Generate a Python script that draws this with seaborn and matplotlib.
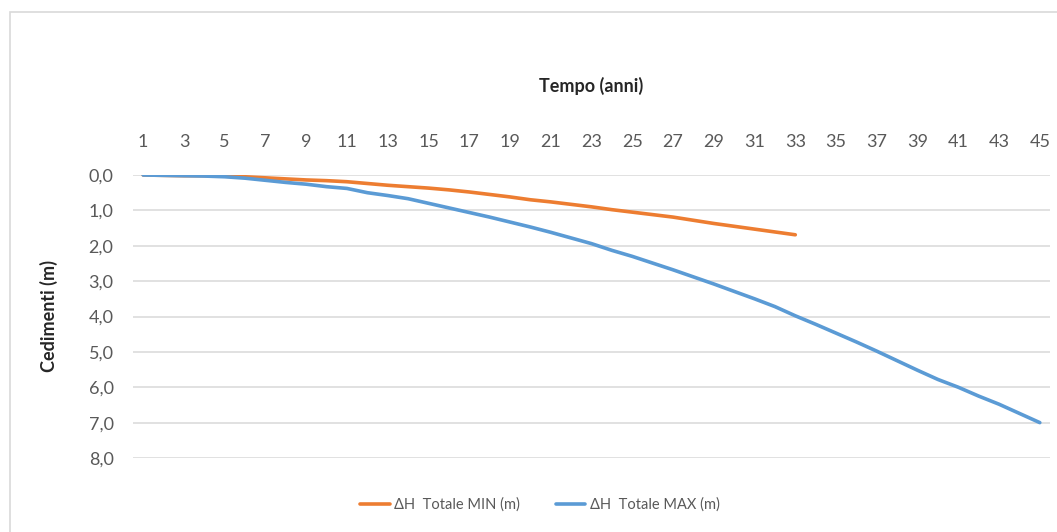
import numpy as np
import pandas as pd
import seaborn as sns
import matplotlib.pyplot as plt
from matplotlib.patches import Rectangle

years_min = list(range(1, 34))
years_max = list(range(1, 46))

dh_min = [0.00, 0.01, 0.02, 0.02, 0.03, 0.05, 0.08, 0.11, 0.14, 0.16,
          0.19, 0.24, 0.29, 0.33, 0.37, 0.42, 0.48, 0.55, 0.62, 0.70,
          0.76, 0.83, 0.90, 0.98, 1.05, 1.12, 1.19, 1.28, 1.37, 1.45,
          1.53, 1.61, 1.69]

dh_max = [0.00, 0.01, 0.02, 0.03, 0.05, 0.09, 0.15, 0.21, 0.26, 0.33,
          0.38, 0.50, 0.58, 0.67, 0.80, 0.93, 1.06, 1.19, 1.33, 1.47,
          1.62, 1.78, 1.94, 2.13, 2.30, 2.49, 2.68, 2.88, 3.08, 3.29,
          3.50, 3.72, 3.98, 4.22, 4.47, 4.72, 4.98, 5.25, 5.52, 5.78,
          6.00, 6.25, 6.48, 6.74, 7.00]

label_min = "ΔH  Totale MIN (m)"
label_max = "ΔH  Totale MAX (m)"
y_ticks = [0, 1, 2, 3, 4, 5, 6, 7, 8]

ORANGE = "#ED7D31"
BLUE = "#5B9BD5"
GREY_TXT = "#595959"
GRID = "#D9D9D9"

sns.set_style("white")
plt.rcParams['font.family'] = ['Lato', 'DejaVu Sans']

fig = plt.figure(figsize=(10.57, 5.32), dpi=100)
ax = fig.add_axes([133 / 1057, 1 - 458 / 532, (1050 - 133) / 1057, (458 - 175) / 532])

# chart border
fig.patches.append(Rectangle((10 / 1057, -0.01), 1.0, 1 - 12 / 532 + 0.01,
                             transform=fig.transFigure, fill=False,
                             edgecolor=GRID, linewidth=1.2))

df_min = pd.DataFrame({"anno": years_min, "dh": dh_min})
df_max = pd.DataFrame({"anno": years_max, "dh": dh_max})
sns.lineplot(data=df_min, x="anno", y="dh", ax=ax, color=ORANGE, linewidth=2.6, label=label_min)
sns.lineplot(data=df_max, x="anno", y="dh", ax=ax, color=BLUE, linewidth=2.6, label=label_max)

ax.set_xlim(0.5, 45.5)
ax.set_ylim(8, 0)
ax.set_yticks(y_ticks)
ax.set_yticklabels([f"{v:.1f}".replace(".", ",") for v in y_ticks])
ax.set_xticks(years_max[::2])
ax.xaxis.tick_top()
ax.xaxis.set_label_position("top")
ax.grid(axis="y", color=GRID, linewidth=1.1)
ax.set_axisbelow(True)
for s in ax.spines.values():
    s.set_visible(False)
ax.tick_params(axis="both", length=0, labelsize=13, labelcolor=GREY_TXT)
ax.tick_params(axis="x", pad=18)
ax.tick_params(axis="y", pad=14)

ax.set_xlabel("Tempo (anni)", fontsize=13, fontweight="bold", color="#262626", labelpad=30)
ax.set_ylabel("Cedimenti (m)", fontsize=13, fontweight="bold", color="#262626", labelpad=22)

ax.legend_.remove()
handles, labels = ax.get_legend_handles_labels()
fig.legend(handles, labels, loc="center", bbox_to_anchor=(540 / 1057, 1 - 505 / 532),
           ncol=2, frameon=False, fontsize=10.5, labelcolor=GREY_TXT,
           handlelength=2.0, handletextpad=0.3, columnspacing=2.5)

fig.savefig("out.png", dpi=100)
